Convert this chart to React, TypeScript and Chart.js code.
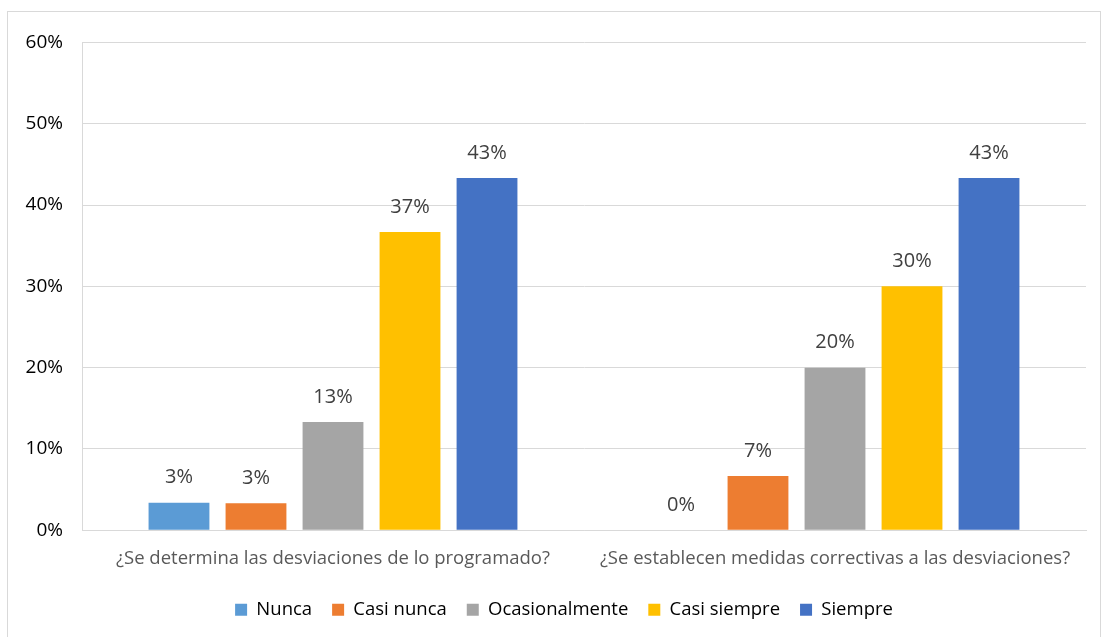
import React, { useEffect, useRef } from "react";
import { Chart, registerables } from "chart.js";

Chart.register(...registerables);

const categories = [
  "¿Se determina las desviaciones de lo programado?",
  "¿Se establecen medidas correctivas a las desviaciones?",
];
const seriesNames = ["Nunca", "Casi nunca", "Ocasionalmente", "Casi siempre", "Siempre"];
const nunca = [3.4, 0];
const casiNunca = [3.33, 6.67];
const ocasionalmente = [13.33, 20];
const casiSiempre = [36.67, 30];
const siempre = [43.33, 43.33];
const colors = ["#5B9BD5", "#ED7D31", "#A5A5A5", "#FFC000", "#4472C4"];
const yTicks = [0, 10, 20, 30, 40, 50, 60];

const FONT = "'Open Sans', 'Noto Sans', sans-serif";

const dataLabels = {
  id: "dataLabels",
  afterDatasetsDraw(chart: any) {
    const ctx = chart.ctx;
    ctx.save();
    ctx.font = `20px ${FONT}`;
    ctx.fillStyle = "#404040";
    ctx.textAlign = "center";
    ctx.textBaseline = "middle";
    chart.data.datasets.forEach((ds: any, i: number) => {
      const meta = chart.getDatasetMeta(i);
      meta.data.forEach((el: any, j: number) => {
        const v = ds.data[j];
        ctx.fillText(Math.round(v) + "%", el.x, el.y - 25);
      });
    });
    ctx.restore();
  },
};

const legendShift = {
  id: "legendShift",
  afterLayout(chart: any) {
    const lg = chart.legend;
    if (!lg) return;
    lg.left += 17;
    lg.right += 17;
    lg.top -= 6;
    lg.bottom -= 6;
  },
};

export default function App() {
  const ref = useRef<HTMLCanvasElement | null>(null);
  useEffect(() => {
    if (!ref.current) return;
    const all = [nunca, casiNunca, ocasionalmente, casiSiempre, siempre];
    const chart = new Chart(ref.current, {
      type: "bar",
      data: {
        labels: categories,
        datasets: all.map((d, i) => ({
          label: seriesNames[i],
          data: d,
          backgroundColor: colors[i],
          borderWidth: 0,
          categoryPercentage: 0.767,
          barPercentage: 0.79,
        })),
      },
      options: {
        animation: false,
        responsive: false,
        maintainAspectRatio: false,
        layout: { padding: { top: 30, right: 14, left: 0, bottom: 3 } },
        plugins: {
          tooltip: { enabled: false },
          legend: {
            position: "bottom",
            labels: {
              font: { family: FONT, size: 18.5 },
              color: "#000000",
              boxWidth: 12,
              boxHeight: 12,
              padding: 20,
            },
          },
        },
        scales: {
          x: {
            grid: { display: false, drawTicks: false },
            border: { display: true, color: "#d9d9d9", width: 1 },
            ticks: {
              font: { family: FONT, size: 18.5 },
              color: "#595959",
              padding: 17,
              maxRotation: 0,
            },
          },
          y: {
            min: 0,
            max: 60,
            afterFit: (s: any) => {
              s.width = 74;
            },
            afterBuildTicks: (s: any) => {
              s.ticks = yTicks.map((v) => ({ value: v }));
            },
            grid: { color: "#d9d9d9", drawTicks: false },
            border: { display: true, color: "#d9d9d9" },
            ticks: {
              font: { family: FONT, size: 19 },
              color: "#000000",
              padding: 19,
              callback: (v: any) => v + "%",
            },
          },
        },
      },
      plugins: [dataLabels, legendShift],
    });
    return () => chart.destroy();
  }, []);
  return (
    <div
      style={{
        position: "absolute",
        left: 7,
        top: 11,
        width: 1092,
        height: 626,
        border: "1px solid #d9d9d9",
        background: "#fff",
      }}
    >
      <canvas ref={ref} width={1092} height={626} style={{ display: "block" }} />
    </div>
  );
}
